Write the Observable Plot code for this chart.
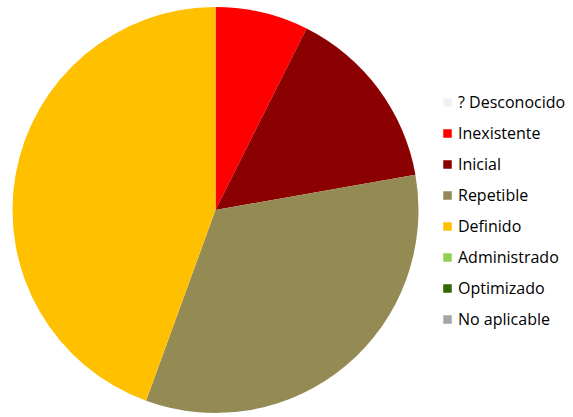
<!DOCTYPE html>
<html>
<head>
<meta charset="utf-8">
<script src="https://cdn.jsdelivr.net/npm/d3@7"></script>
<script src="https://cdn.jsdelivr.net/npm/@observablehq/plot@0.6"></script>
<style>
  html, body { margin: 0; padding: 0; background: #fff; }
</style>
</head>
<body>
<div id="chart"></div>
<script>
const categories = ["? Desconocido", "Inexistente", "Inicial", "Repetible", "Definido", "Administrado", "Optimizado", "No aplicable"];
const counts = [0, 2, 4, 9, 12, 0, 0, 0];
const colors = ["#F2F2F2", "#FF0000", "#8B0000", "#948A54", "#FFC000", "#92D050", "#336600", "#A6A6A6"];

const table = categories.map((c, i) => ({category: c, count: counts[i]}));

function pieMark(index, scales, values, dimensions) {
  const cx = 215.5, cy = 210, r = 203;
  const arcs = d3.pie().sort(null).value(d => d.count)(table).filter(a => a.data.count > 0);
  const g = d3.create("svg:g").attr("transform", `translate(${cx},${cy})`);
  g.selectAll("path")
    .data(arcs)
    .join("path")
    .attr("d", d3.arc().innerRadius(0).outerRadius(r))
    .attr("fill", d => scales.color(d.data.category));
  return g.node();
}

const plot = Plot.plot({
  width: 573,
  height: 417,
  margin: 0,
  style: {fontFamily: "Open Sans", background: "#fff"},
  x: {type: "identity", axis: null},
  y: {type: "point", domain: categories, range: [100.5, 320.5], padding: 0, axis: null},
  color: {domain: categories, range: colors},
  marks: [
    pieMark,
    Plot.dot(table, {x: () => 447, y: "category", fill: "category", symbol: "square", r: 4.8}),
    Plot.text(table, {x: () => 457.5, y: "category", text: "category", textAnchor: "start", fontSize: 16, fill: "#000"})
  ]
});
document.getElementById("chart").appendChild(plot);
</script>
</body>
</html>
